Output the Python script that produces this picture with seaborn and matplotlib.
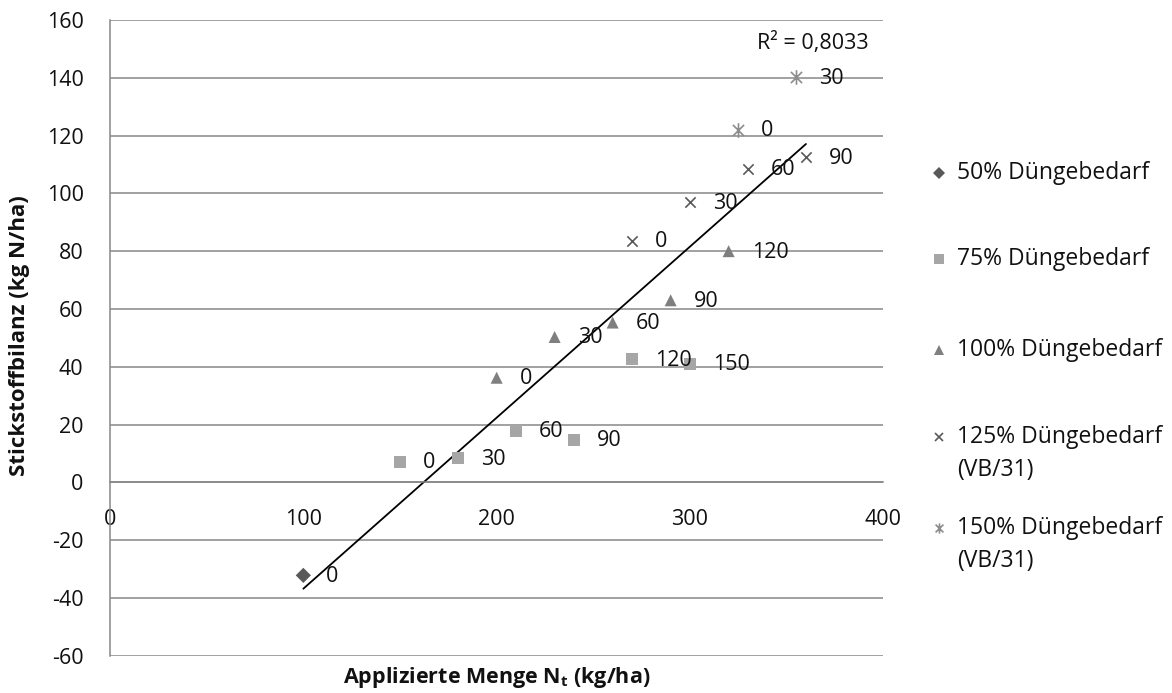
import numpy as np
import pandas as pd
import matplotlib.pyplot as plt
import seaborn as sns
from matplotlib.path import Path
from matplotlib.lines import Line2D

# Daten
labels_legend = ["50% Düngebedarf", "75% Düngebedarf", "100% Düngebedarf",
                 "125% Düngebedarf\n(VB/31)", "150% Düngebedarf\n(VB/31)"]
x50 = [100]
y50 = [-32.2]
lab50 = [0]
x75 = [150, 180, 210, 240, 270, 300]
y75 = [7.1, 8.3, 17.9, 14.7, 42.6, 41.0]
lab75 = [0, 30, 60, 90, 120, 150]
x100 = [200, 230, 260, 290, 320]
y100 = [36.2, 50.3, 55.3, 63.0, 80.0]
lab100 = [0, 30, 60, 90, 120]
x125 = [270, 300, 330, 360]
y125 = [83.6, 97.0, 108.5, 112.5]
lab125 = [0, 30, 60, 90]
x150 = [325, 355]
y150 = [122.0, 140.2]
lab150 = [0, 30]
r2_text = "R² = 0,8033"
x_ticks = [0, 100, 200, 300, 400]
y_ticks = list(range(-60, 161, 20))

sns.set_style("white")
plt.rcParams['font.family'] = ['Open Sans', 'DejaVu Sans']
plt.rcParams['axes.unicode_minus'] = False
plt.rcParams['mathtext.fontset'] = 'custom'
plt.rcParams['mathtext.rm'] = 'Open Sans'
plt.rcParams['mathtext.bf'] = 'Open Sans:bold'

# Sternchen-Marker wie in Excel (x plus senkrechter Strich)
star = Path([(-1, -1), (1, 1), (-1, 1), (1, -1), (0, -1.3), (0, 1.3)],
            [Path.MOVETO, Path.LINETO, Path.MOVETO, Path.LINETO, Path.MOVETO, Path.LINETO])

series = [
    (x50, y50, lab50, "D", "#595959", 60),
    (x75, y75, lab75, "s", "#a6a6a6", 75),
    (x100, y100, lab100, "^", "#7f7f7f", 75),
    (x125, y125, lab125, "x", "#595959", 55),
    (x150, y150, lab150, star, "#8c8c8c", 110),
]

W, H = 1172, 693
fig = plt.figure(figsize=(W / 100, H / 100), dpi=100)
left, right, top, bottom = 110, 883.3, 20, 655.7
ax = fig.add_axes([left / W, 1 - bottom / H, (right - left) / W, (bottom - top) / H])

grid_c = "#878787"
fs = 15.5
txt_c = "#111111"

for xs, ys, labs, mk, col, sz in series:
    df = pd.DataFrame({"x": xs, "y": ys})
    if mk == "x" or mk is star:
        sns.scatterplot(data=df, x="x", y="y", marker=mk, s=sz, color=col,
                        edgecolor=col, linewidth=1.2, ax=ax, zorder=3, legend=False)
    else:
        sns.scatterplot(data=df, x="x", y="y", marker=mk, s=sz, color=col,
                        edgecolor="none", linewidth=0, ax=ax, zorder=3, legend=False)
    for xv, yv, lb in zip(xs, ys, labs):
        ax.annotate(str(lb), (xv, yv), xytext=(23, -1), textcoords="offset pixels",
                    ha="left", va="center", fontsize=fs, color=txt_c, zorder=4)

# Lineare Trendlinie
all_x = np.array(x50 + x75 + x100 + x125 + x150, dtype=float)
all_y = np.array(y50 + y75 + y100 + y125 + y150, dtype=float)
k, d = np.polyfit(all_x, all_y, 1)
tx = np.array([all_x.min(), all_x.max()])
ax.plot(tx, k * tx + d, color="black", lw=1.3, zorder=2)
ax.text(0.909, (152 + 60) / 220, r2_text, transform=ax.transAxes, ha="center",
        va="center", fontsize=fs, color=txt_c)

ax.set_xlim(0, 400)
ax.set_ylim(-60, 160)
ax.set_xticks(x_ticks)
ax.set_yticks(y_ticks)
ax.yaxis.grid(True, color=grid_c, lw=1.1)
ax.xaxis.grid(False)
for sp in ["top", "right"]:
    ax.spines[sp].set_visible(False)
ax.spines["bottom"].set_position(("data", 0))
for sp in ["left", "bottom"]:
    ax.spines[sp].set_color(grid_c)
    ax.spines[sp].set_linewidth(1.1)
ax.tick_params(axis="both", direction="out", length=6, width=1.1, color=grid_c,
               labelsize=fs, labelcolor=txt_c, pad=13)
ax.set_xlabel("")
ax.set_ylabel("")

fig.text(496.6 / W, 1 - 678 / H, r"Applizierte Menge $\mathbf{N_t}$ (kg/ha)",
         ha="center", va="center", fontsize=fs, fontweight="bold", color=txt_c)
fig.text(20 / W, 1 - 336 / H, "Stickstoffbilanz (kg N/ha)", rotation=90,
         ha="center", va="center", fontsize=fs + 0.5, fontweight="bold", color=txt_c)

# Legende
leg_y = [172.7, 259.3, 350, 437.3, 528]
for (xs, ys, labs, mk, col, sz), txt, py in zip(series, labels_legend, leg_y):
    filled = not (mk == "x" or mk is star)
    ms = np.sqrt(sz) * (0.7 if mk is star else 0.85)
    fig.add_artist(Line2D([939 / W], [1 - py / H], marker=mk, ms=ms, color=col,
                          mec=col if not filled else "none", mew=1.2, lw=0,
                          transform=fig.transFigure))
    for i, line in enumerate(txt.split("\n")):
        fig.text(957 / W, 1 - (py + i * 33) / H, line, ha="left", va="center",
                 fontsize=16.5, color=txt_c)

fig.savefig("out.png", dpi=100)
